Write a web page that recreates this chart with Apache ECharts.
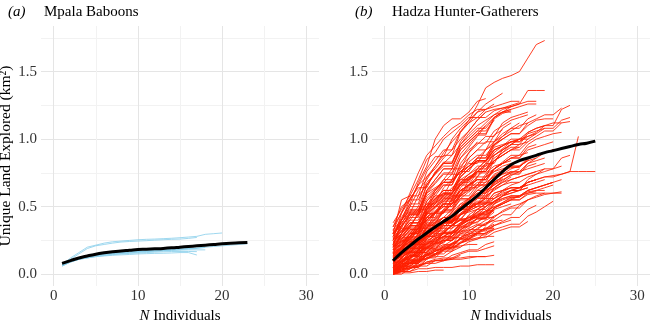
<!DOCTYPE html>
<html>
<head>
<meta charset="utf-8">
<script src="https://cdn.jsdelivr.net/npm/echarts@6/dist/echarts.min.js"></script>
<style>
  html, body { margin: 0; padding: 0; background: #fff; }
  #chart { width: 650px; height: 323px; }
</style>
</head>
<body>
<div id="chart"></div>
<script>
// tick values
const xMajor = [0, 10, 20, 30];
const xMinor = [5, 15, 25];
const yMajor = [0, 0.5, 1.0, 1.5];
const yMinor = [0.25, 0.75, 1.25, 1.75];

// Mpala baboons: cumulative land explored for N = 1, 2, 3 ...
const babMean = [0.08,0.10,0.12,0.135,0.148,0.158,0.166,0.172,0.177,0.182,0.185,0.188,0.191,0.195,0.200,0.205,0.210,0.215,0.220,0.225,0.229,0.232,0.235];
const babTracks = [
  [0.07,0.12,0.16,0.20,0.215,0.23,0.24,0.245,0.25,0.255,0.258,0.26,0.263,0.266,0.27,0.275,0.28,0.295,0.30,0.305],
  [0.07,0.11,0.15,0.19,0.21,0.22,0.23,0.238,0.242,0.245,0.248,0.252,0.255,0.258,0.26,0.265,0.272],
  [0.06,0.09,0.11,0.12,0.13,0.135,0.14,0.143,0.146,0.15,0.152,0.154,0.155,0.157,0.16,0.16,0.142],
  [0.065,0.09,0.11,0.12,0.13,0.138,0.144,0.15,0.154,0.157,0.16,0.163,0.166,0.168,0.168,0.168,0.167],
  [0.07,0.10,0.12,0.13,0.14,0.148,0.155,0.16,0.164,0.167,0.17,0.172,0.174,0.176,0.178,0.18,0.18,0.18],
  [0.075,0.10,0.12,0.135,0.145,0.152,0.158,0.163,0.167,0.171,0.175,0.178,0.181,0.184,0.187,0.19,0.19],
  [0.07,0.095,0.115,0.128,0.138,0.146,0.152,0.157,0.162,0.166,0.17,0.174,0.178,0.182,0.186,0.19,0.195,0.20,0.205,0.21,0.215,0.22,0.225],
  [0.06,0.09,0.11,0.125,0.135,0.142,0.148,0.153,0.158,0.162,0.166,0.17,0.174,0.178,0.182,0.186,0.19,0.198]
];

// Hadza hunter-gatherers
const hadzaMean = [0.10,0.16,0.21,0.26,0.305,0.35,0.39,0.43,0.48,0.53,0.58,0.64,0.70,0.76,0.81,0.84,0.86,0.88,0.90,0.915,0.93,0.945,0.96,0.97,0.985];
const hadzaTracks = [
  [0.00,0.01,0.01,0.02,0.02,0.03,0.03],
  [0.01,0.02,0.02,0.04,0.04,0.05,0.05,0.05,0.06,0.06,0.07,0.07,0.07],
  [0.02,0.04,0.04,0.07,0.08,0.08,0.10,0.11,0.11,0.12,0.13,0.13,0.14],
  [0.03,0.05,0.06,0.06,0.09,0.10,0.10,0.12,0.12,0.13,0.13,0.13],
  [0.00,0.03,0.05,0.05,0.09,0.11,0.12,0.12,0.15,0.17,0.17,0.19,0.21],
  [0.05,0.08,0.08,0.12,0.15,0.15,0.19,0.20,0.21,0.22,0.22],
  [0.02,0.06,0.09,0.09,0.14,0.17,0.20,0.20,0.27,0.30,0.30,0.35],
  [0.08,0.10,0.13,0.17,0.19,0.19,0.24,0.27,0.27,0.32,0.36,0.36,0.42],
  [0.01,0.04,0.08,0.08,0.15,0.18,0.18,0.23,0.26,0.29],
  [0.04,0.06,0.06,0.10,0.12,0.13,0.13,0.17,0.20],
  [0.10,0.13,0.16,0.16,0.20,0.23,0.25,0.25,0.30,0.31,0.33,0.33,0.39,0.40],
  [0.06,0.09,0.12,0.16,0.16,0.22,0.26,0.26,0.33,0.36,0.41,0.41,0.48,0.50,0.52],
  [0.00,0.02,0.04,0.06,0.06,0.10,0.11,0.11,0.14],
  [0.03,0.07,0.10,0.10,0.16,0.19,0.22,0.22,0.30,0.33,0.33,0.38,0.40,0.44,0.44,0.51,0.55],
  [0.12,0.15,0.19,0.19,0.26,0.30,0.30,0.37,0.40,0.42,0.42,0.47,0.50],
  [0.05,0.10,0.14,0.14,0.22,0.26,0.30,0.30,0.37,0.40,0.42,0.42,0.49,0.52,0.55,0.55,0.60,0.61],
  [0.15,0.20,0.24,0.29,0.29,0.36,0.39,0.39,0.44,0.46,0.48,0.48,0.54,0.56,0.58,0.58,0.62,0.64,0.66,0.68],
  [0.08,0.12,0.17,0.17,0.25,0.28,0.31,0.31,0.38,0.40,0.44,0.44,0.49,0.52,0.55,0.55,0.59,0.60,0.60,0.60,0.60],
  [0.02,0.08,0.13,0.13,0.21,0.25,0.28,0.28,0.36,0.40,0.45,0.45,0.52,0.55,0.57,0.57,0.61,0.62,0.62],
  [0.20,0.24,0.28,0.32,0.32,0.39,0.42,0.42,0.47,0.50,0.52,0.52,0.58,0.61,0.64,0.64,0.68,0.70,0.72,0.72,0.74,0.76,0.76,0.76,0.76],
  [0.10,0.16,0.21,0.21,0.30,0.34,0.38,0.38,0.45,0.49,0.53,0.53,0.60,0.62,0.64,0.64,0.68,0.70,0.72,0.73,0.74,0.76,1.02],
  [0.30,0.38,0.45,0.45,0.58,0.63,0.68,0.68,0.76,0.80,0.84,0.84,0.92,0.95,0.98,0.98,1.02,1.05,1.10,1.10,1.22,1.25],
  [0.25,0.32,0.40,0.40,0.54,0.60,0.66,0.66,0.78,0.83,0.88,0.88,0.96,1.00,1.04,1.04,1.12,1.15,1.18,1.18,1.23],
  [0.30,0.42,0.52,0.52,0.72,0.80,0.88,0.88,1.05,1.14,1.25,1.38,1.42,1.45,1.47,1.50,1.60,1.70,1.73],
  [0.35,0.45,0.55,0.66,0.78,0.87,0.87,1.00,1.08,1.14,1.20,1.26,1.30,1.34],
  [0.28,0.40,0.50,0.50,0.66,0.75,0.82,0.82,0.98,1.06,1.14,1.20,1.22,1.23,1.24,1.26,1.36,1.36,1.36],
  [0.22,0.30,0.38,0.38,0.54,0.62,0.70,0.70,0.86,0.94,1.02,1.10,1.16,1.20,1.22,1.24,1.26,1.26],
  [0.18,0.25,0.33,0.33,0.47,0.55,0.62,0.62,0.74,0.80,0.86,0.86,0.95,1.00,1.04,1.04,1.10,1.14,1.15,1.15],
  [0.15,0.22,0.30,0.30,0.44,0.50,0.56,0.56,0.68,0.74,0.80,0.80,0.90,0.95,1.00,1.00,1.05,1.08,1.10,1.12,1.12],
  [0.26,0.36,0.44,0.44,0.60,0.67,0.74,0.74,0.86,0.92,0.97,0.97,1.06,1.10,1.14,1.16,1.18],
  [0.32,0.46,0.56,0.64,0.64,0.76,0.82,0.82,0.94,1.00,1.06,1.12,1.18,1.20,1.20],
  [0.20,0.28,0.36,0.36,0.50,0.56,0.62,0.62,0.72,0.78,0.84,0.84,0.94,0.96,0.98,1.00,1.00],
  [0.12,0.20,0.28,0.28,0.42,0.49,0.55,0.55,0.66,0.71,0.76,0.76,0.84,0.88,0.92,0.92,0.98,1.02,1.06,1.06,1.12,1.13],
  [0.10,0.18,0.26,0.26,0.40,0.46,0.52,0.52,0.62,0.66,0.70,0.70,0.78,0.82,0.86,0.86,0.92,0.94,0.96,0.98],
  [0.38,0.48,0.58,0.58,0.76,0.84,0.92,0.92,1.06,1.12,1.16,1.16,1.21,1.23,1.25,1.27],
  [0.22,0.34,0.46,0.46,0.66,0.75,0.83,0.83,0.96,1.02,1.08,1.08,1.16,1.20,1.22],
  [0.08,0.15,0.22,0.22,0.38,0.45,0.52,0.52,0.64,0.70,0.76,0.76,0.88,0.93,0.98,0.98,1.05,1.08,1.10],
  [0.14,0.22,0.30,0.30,0.46,0.54,0.60,0.60,0.72,0.78,0.83,0.83,0.92,0.95,0.98,1.00],
  [0.18,0.26,0.33,0.33,0.46,0.52,0.57,0.57,0.67,0.72,0.76,0.76,0.84],
  [0.12,0.20,0.27,0.27,0.40,0.45,0.50,0.50,0.60,0.65,0.70,0.70,0.78,0.82],
  [0.05,0.12,0.18,0.18,0.30,0.35,0.40,0.40,0.50,0.55,0.60,0.60,0.68,0.72,0.76,0.76,0.82,0.84,0.86],
  [0.20,0.30,0.38,0.38,0.50,0.56,0.60,0.60,0.68,0.72,0.75,0.75,0.80,0.82,0.84],
  [0.25,0.35,0.44,0.44,0.56,0.62,0.68,0.68,0.80,0.86,0.92,0.92,1.03,1.07],
  [0.10,0.16,0.22,0.22,0.34,0.40,0.46,0.46,0.56,0.61,0.66,0.66,0.74,0.77,0.80,0.80,0.86,0.88,0.90,0.92],
  [0.30,0.40,0.48,0.48,0.60,0.64,0.68,0.68,0.76,0.80,0.84,0.84,0.92,0.95],
  [0.08,0.14,0.20,0.20,0.32,0.37,0.42,0.42,0.52,0.56,0.60,0.60,0.68,0.72,0.75,0.75,0.80,0.82],
  [0.16,0.23,0.30,0.30,0.42,0.47,0.52,0.52,0.62,0.66,0.70,0.70,0.76,0.78,0.80,0.80,0.84],
  [0.02,0.08,0.14,0.14,0.26,0.32,0.38,0.38,0.50,0.56,0.62,0.62,0.72,0.76,0.80],
  [0.06,0.12,0.17,0.17,0.27,0.32,0.36,0.36,0.44,0.48,0.52,0.52,0.60,0.62,0.64,0.64,0.68,0.70],
  [0.22,0.28,0.34,0.34,0.45,0.50,0.54,0.54,0.62,0.66,0.70,0.70,0.78,0.82,0.86,0.86,0.94,0.96],
  [0.28,0.38,0.46,0.46,0.62,0.70,0.78,0.78,0.94,1.00,1.06,1.06,1.14],
  [0.35,0.50,0.55,0.55,0.68,0.74,0.80,0.80,0.92,0.98,1.04,1.10],
  [0.18,0.30,0.42,0.42,0.62,0.70,0.78,0.78,0.92,0.98,1.04,1.04,1.16,1.20,1.24],
  [0.10,0.20,0.30,0.30,0.48,0.56,0.62,0.62,0.74,0.80,0.86,0.86,0.98,1.04,1.08,1.12],
  [0.04,0.10,0.16,0.16,0.28,0.33,0.38,0.38,0.48,0.53,0.58,0.58,0.67,0.71],
  [0.14,0.19,0.24,0.24,0.34,0.38,0.42,0.42,0.50,0.54,0.57,0.57,0.63,0.66,0.68,0.68,0.72,0.74,0.76,0.78,0.80],
  [0.00,0.05,0.10,0.10,0.20,0.24,0.28,0.28,0.36,0.40,0.44,0.44,0.52,0.56,0.58,0.58,0.62,0.64,0.66,0.68,0.70],
  [0.24,0.30,0.36,0.36,0.48,0.54,0.60,0.60,0.70,0.74,0.78,0.78,0.86,0.90,0.94,0.94,1.00,1.04,1.08,1.08,1.14,1.16],
  [0.09,0.16,0.23,0.23,0.36,0.42,0.48,0.48,0.60,0.66,0.72,0.72,0.84,0.90,0.96,0.96,1.04,1.06,1.08],
  [0.20,0.26,0.32,0.32,0.42,0.46,0.50,0.50,0.58,0.62,0.66,0.66,0.73,0.76,0.79,0.79,0.85,0.88,0.90,0.92,0.93,0.94],
  [0.00,0.04,0.08,0.08,0.14,0.17,0.20,0.20,0.26,0.28,0.30,0.30,0.34],
  [0.03,0.07,0.11,0.11,0.19,0.23,0.27,0.27,0.35,0.38,0.41,0.41,0.46],
  [0.07,0.11,0.15,0.15,0.23,0.27,0.31,0.31,0.37,0.40,0.43,0.43,0.49,0.52,0.55,0.58],
  [0.01,0.05,0.09,0.09,0.17,0.21,0.25,0.25,0.33,0.37,0.41,0.41,0.49,0.53,0.57,0.57,0.62,0.64,0.66,0.68],
  [0.05,0.09,0.13,0.13,0.19,0.22,0.25,0.25,0.31,0.34,0.37,0.37,0.43,0.46,0.49,0.49,0.55,0.58,0.60],
  [0.11,0.16,0.20,0.20,0.28,0.32,0.36,0.36,0.44,0.48,0.52,0.56],
  [0.00,0.02,0.05,0.05,0.11,0.14,0.17,0.17,0.23,0.26,0.29,0.29,0.33,0.35,0.37,0.37,0.43,0.46,0.50,0.54],
  [0.16,0.20,0.24,0.24,0.32,0.36,0.40,0.40,0.48,0.52,0.56,0.56,0.64,0.68,0.72],
  [0.26,0.32,0.38,0.38,0.48,0.53,0.58,0.58,0.66,0.70,0.74],
  [0.04,0.09,0.14,0.14,0.24,0.29,0.34,0.34,0.44,0.49,0.54,0.54,0.64,0.69,0.74,0.74,0.82,0.86,0.90,0.92],
  [0.02,0.05,0.08,0.08,0.14,0.17,0.19,0.19,0.23,0.25,0.27,0.27,0.31,0.33,0.35,0.35,0.39],
  [0.13,0.18,0.22,0.22,0.30,0.34,0.38,0.38,0.44,0.47,0.50,0.50,0.56,0.59,0.62,0.62,0.68,0.70],
  [0.09,0.14,0.19,0.19,0.29,0.34,0.39,0.39,0.49,0.54,0.58],
  [0.01,0.03,0.06,0.06,0.12,0.15,0.18,0.18,0.24,0.27,0.30,0.30,0.36,0.39,0.42,0.42,0.48,0.51],
  [0.17,0.24,0.31,0.31,0.45,0.52,0.59,0.59,0.72,0.78,0.84,0.84,0.96,1.02,1.08,1.08,1.15,1.18],
  [0.06,0.10,0.14,0.14,0.22,0.26,0.30,0.30,0.38,0.42,0.46,0.46,0.54,0.58,0.62,0.62,0.70,0.74,0.78,0.78,0.86,0.88],
  [0.03,0.06,0.09,0.09,0.15,0.18,0.21,0.21,0.27,0.30,0.32,0.32,0.36,0.38,0.40],
  [0.21,0.28,0.35,0.35,0.50,0.58,0.66,0.66,0.82,0.90,0.98],
  [0.33,0.40,0.47,0.47,0.61,0.68,0.75,0.75,0.89,0.96,1.03,1.03,1.15,1.19,1.21],
  [0.11,0.17,0.23,0.23,0.35,0.41,0.47,0.47,0.58,0.63,0.68,0.68,0.78,0.83,0.88,0.88,0.96,1.00,1.02,1.04,1.05],
  // steep starters
  [0.25,0.45,0.60,0.75,0.88,0.95,1.02,1.08,1.12,1.18,1.22,1.22,1.26],
  [0.20,0.40,0.52,0.68,0.80,1.00,1.10,1.15,1.15,1.20,1.28,1.30],
  [0.30,0.55,0.58,0.70,0.85,0.90,1.00,1.05,1.10,1.16,1.16,1.22,1.24,1.26,1.28,1.28],
  [0.22,0.36,0.50,0.62,0.70,0.80,0.90,0.98,1.05,1.12,1.20,1.22],
  [0.15,0.30,0.45,0.58,0.66,0.74,0.82,0.88,0.96,1.04,1.10,1.14,1.18,1.22,1.24,1.26,1.28,1.28],
  [0.28,0.40,0.55,0.66,0.72,0.78,0.86,0.92,1.00,1.06,1.14,1.20],
  // steps at 6, 10
  [0.05,0.12,0.18,0.25,0.30,0.30,0.38,0.44,0.50,0.50,0.58,0.62,0.66],
  [0.12,0.18,0.22,0.30,0.36,0.36,0.42,0.48,0.55,0.55,0.62,0.66,0.70,0.74,0.76],
  [0.02,0.06,0.12,0.18,0.24,0.24,0.30,0.36,0.40,0.40,0.46,0.50],
  [0.18,0.22,0.28,0.34,0.40,0.40,0.46,0.52,0.56,0.56,0.64,0.68,0.72,0.74,0.78,0.80,0.84,0.86],
  [0.08,0.14,0.22,0.28,0.34,0.34,0.40,0.46,0.52,0.52,0.58,0.64,0.68,0.72,0.75,0.78],
  [0.00,0.03,0.06,0.10,0.14,0.14,0.18,0.22,0.26,0.26,0.30,0.33,0.36],
  [0.14,0.20,0.26,0.32,0.38,0.38,0.46,0.52,0.58,0.58,0.66,0.72,0.78,0.82,0.86,0.88,0.90],
  [0.04,0.08,0.12,0.16,0.20,0.20,0.24,0.28,0.32,0.32,0.36,0.40,0.43],
  [0.24,0.30,0.36,0.44,0.50,0.50,0.58,0.64,0.70,0.70,0.78,0.84,0.88,0.92,0.96],
  [0.10,0.14,0.18,0.24,0.28,0.28,0.32,0.36,0.40,0.40,0.46,0.50,0.54,0.58,0.60,0.62,0.64],
  // steps at 3, 7, 11
  [0.06,0.11,0.11,0.18,0.22,0.27,0.27,0.34,0.38,0.43,0.43,0.50,0.54],
  [0.16,0.24,0.24,0.34,0.40,0.46,0.46,0.56,0.62,0.66,0.66,0.74,0.78,0.82],
  [0.01,0.04,0.04,0.09,0.12,0.15,0.15,0.20,0.23,0.26,0.26,0.31,0.33],
  [0.20,0.27,0.27,0.38,0.44,0.50,0.50,0.60,0.66,0.72,0.72,0.82,0.88,0.92,0.96,1.00],
  [0.09,0.15,0.15,0.24,0.29,0.34,0.34,0.42,0.47,0.52,0.52,0.60,0.64,0.68,0.70,0.72,0.74,0.76],
  [0.03,0.08,0.08,0.15,0.19,0.23,0.23,0.30,0.34,0.38,0.38,0.44,0.47],
  [0.27,0.34,0.34,0.46,0.52,0.58,0.58,0.70,0.76,0.82,0.82,0.92,0.98,1.02,1.06,1.10,1.12],
  [0.11,0.16,0.16,0.24,0.28,0.32,0.32,0.40,0.45,0.50,0.50,0.58,0.62,0.66,0.70,0.72,0.74,0.76,0.78],
  [0.00,0.02,0.02,0.06,0.08,0.10,0.10,0.14,0.16,0.18,0.18,0.22,0.24],
  [0.19,0.25,0.25,0.35,0.40,0.45,0.45,0.54,0.59,0.64,0.64,0.72,0.76,0.80,0.82,0.84,0.86,0.88,0.90,0.92],
  // steps at 5, 9, 13
  [0.07,0.12,0.17,0.22,0.22,0.30,0.35,0.40,0.40,0.48,0.52,0.56,0.56,0.62,0.66,0.68],
  [0.13,0.20,0.27,0.34,0.34,0.45,0.52,0.58,0.58,0.70,0.76,0.82,0.82,0.92,0.96,1.00,1.02,1.04],
  [0.02,0.05,0.08,0.11,0.11,0.15,0.18,0.20,0.20,0.24,0.26,0.28,0.28],
  [0.23,0.32,0.40,0.48,0.48,0.60,0.68,0.74,0.74,0.86,0.92,0.98,0.98,1.08,1.12],
  [0.05,0.09,0.14,0.19,0.19,0.26,0.31,0.36,0.36,0.44,0.48,0.52,0.52,0.58,0.62,0.64,0.66,0.68,0.70],
  [0.15,0.19,0.23,0.27,0.27,0.33,0.37,0.41,0.41,0.47,0.50,0.53,0.53,0.58,0.60,0.62,0.64],
  [0.01,0.06,0.11,0.16,0.16,0.23,0.28,0.32,0.32,0.39,0.43,0.47,0.47],
  [0.30,0.36,0.42,0.50,0.50,0.62,0.70,0.78,0.78,0.90,0.96,1.02,1.02,1.12,1.16,1.18,1.20],
  [0.10,0.13,0.16,0.20,0.20,0.25,0.28,0.31,0.31,0.36,0.39,0.42,0.42,0.47,0.50,0.52,0.55,0.57,0.59,0.60,0.61],
  [0.04,0.07,0.10,0.13,0.13,0.17,0.20,0.23,0.23,0.28,0.31,0.34,0.34],
  // steps at 2, 6, 10
  [0.12,0.12,0.20,0.26,0.31,0.31,0.40,0.45,0.50,0.50,0.58,0.62,0.66,0.70],
  [0.00,0.00,0.04,0.08,0.12,0.12,0.18,0.22,0.26,0.26,0.31,0.34,0.37],
  [0.18,0.18,0.28,0.36,0.42,0.42,0.54,0.60,0.66,0.66,0.76,0.80,0.84,0.88,0.92,0.94],
  [0.06,0.06,0.12,0.18,0.23,0.23,0.31,0.36,0.41,0.41,0.48,0.52,0.56,0.60,0.62,0.64,0.66],
  [0.26,0.26,0.36,0.44,0.52,0.52,0.64,0.70,0.76,0.76,0.86,0.92,0.96,1.00],
  [0.02,0.02,0.07,0.11,0.15,0.15,0.21,0.25,0.29,0.29,0.34,0.37,0.40],
  [0.09,0.09,0.16,0.22,0.28,0.28,0.37,0.43,0.48,0.48,0.56,0.61,0.66,0.70,0.73,0.76,0.78,0.80,0.82],
  [0.14,0.14,0.22,0.30,0.37,0.37,0.48,0.55,0.62,0.62,0.72,0.78,0.84,0.88,0.92,0.96,0.98],
  [0.03,0.03,0.08,0.13,0.18,0.18,0.26,0.30,0.35,0.35,0.42,0.46,0.50,0.53,0.56,0.58,0.60,0.62,0.64,0.66],
  [0.21,0.21,0.30,0.38,0.45,0.45,0.56,0.62,0.68,0.68,0.78,0.84,0.90]
];

const serif = '"Liberation Serif", "DejaVu Serif", serif';
const babColor = 'rgba(135,206,235,0.8)';
const hadzaColor = 'rgba(255,30,0,0.85)';

// N = 1, 2, 3 ... for each value
const toPoints = vals => vals.map((v, i) => [i + 1, v]);

const makeX = (grid, ticks, major) => ({
  type: 'value', gridIndex: grid, min: -1.5, max: 31.5,
  axisLine: { show: false },
  axisTick: { show: false, customValues: ticks },
  axisLabel: major ? { customValues: ticks, margin: 3, fontFamily: serif, fontSize: 15, color: '#333' } : { show: false },
  splitLine: { lineStyle: { color: major ? '#e5e5e5' : '#f2f2f2', width: 1 } },
  name: major ? '{i|N} Individuals' : '',
  nameLocation: 'middle', nameGap: 22,
  nameTextStyle: { fontFamily: serif, fontSize: 15, color: '#000', rich: { i: { fontFamily: serif, fontSize: 15, fontStyle: 'italic', color: '#000' } } }
});

const makeY = (grid, ticks, major, title) => ({
  type: 'value', gridIndex: grid, min: -0.0875, max: 1.8375,
  axisLine: { show: false },
  axisTick: { show: false, customValues: ticks },
  axisLabel: major ? { customValues: ticks, margin: 4, fontFamily: serif, fontSize: 15, color: '#333', formatter: v => v.toFixed(1) } : { show: false },
  splitLine: { lineStyle: { color: major ? '#e5e5e5' : '#f2f2f2', width: 1 } },
  name: title || '',
  nameLocation: 'middle', nameGap: 20,
  nameTextStyle: { fontFamily: serif, fontSize: 15.5, color: '#000' }
});

const series = [];
babTracks.forEach(t => series.push({
  type: 'line', xAxisIndex: 0, yAxisIndex: 0, data: toPoints(t),
  showSymbol: false, silent: true, clip: false,
  lineStyle: { color: babColor, width: 1 }
}));
series.push({
  type: 'line', xAxisIndex: 0, yAxisIndex: 0, data: toPoints(babMean),
  showSymbol: false, smooth: true, silent: true, z: 5,
  lineStyle: { color: '#000', width: 3 }
});
hadzaTracks.forEach(t => series.push({
  type: 'line', xAxisIndex: 2, yAxisIndex: 2, data: toPoints(t),
  showSymbol: false, silent: true, clip: false,
  lineStyle: { color: hadzaColor, width: 1 }
}));
series.push({
  type: 'line', xAxisIndex: 2, yAxisIndex: 2, data: toPoints(hadzaMean),
  showSymbol: false, smooth: true, silent: true, z: 5,
  lineStyle: { color: '#000', width: 3 }
});

const chart = echarts.init(document.getElementById('chart'), null, { renderer: 'canvas' });
chart.setOption({
  animation: false,
  backgroundColor: '#fff',
  title: [
    { text: '(a)', left: 3, top: 0, textStyle: { fontFamily: serif, fontSize: 15, fontStyle: 'italic', fontWeight: 'normal', color: '#000' } },
    { text: 'Mpala Baboons', left: 39, top: 0, textStyle: { fontFamily: serif, fontSize: 15, fontWeight: 'normal', color: '#000' } },
    { text: '(b)', left: 350, top: 0, textStyle: { fontFamily: serif, fontSize: 15, fontStyle: 'italic', fontWeight: 'normal', color: '#000' } },
    { text: 'Hadza Hunter-Gatherers', left: 387, top: 0, textStyle: { fontFamily: serif, fontSize: 15, fontWeight: 'normal', color: '#000' } }
  ],
  grid: [
    { left: 41, width: 278, top: 26, height: 260, outerBoundsMode: 'none', containLabel: false },
    { left: 372, width: 278, top: 26, height: 260, outerBoundsMode: 'none', containLabel: false }
  ],
  xAxis: [
    makeX(0, xMajor, true), makeX(0, xMinor, false),
    makeX(1, xMajor, true), makeX(1, xMinor, false)
  ],
  yAxis: [
    makeY(0, yMajor, true, 'Unique Land Explored (km²)'), makeY(0, yMinor, false),
    makeY(1, yMajor, true), makeY(1, yMinor, false)
  ],
  series: series
});
</script>
</body>
</html>
